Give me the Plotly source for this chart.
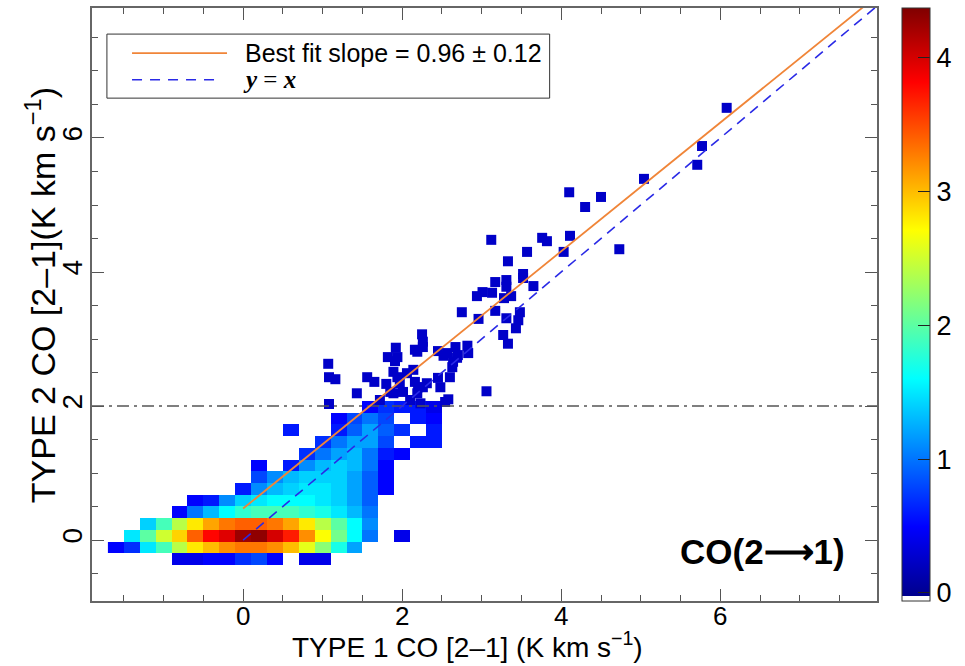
import plotly.graph_objects as go

# ---------------- data ----------------
# 2D density (binned) of TYPE1 vs TYPE2 CO(2-1); bin centres
x_bins = [-1.6, -1.4, -1.2, -1.0, -0.8, -0.6, -0.4, -0.2, 0.0, 0.2, 0.4,
          0.6, 0.8, 1.0, 1.2, 1.4, 1.6, 1.8, 2.0, 2.2, 2.4, 2.6]
y_bins = [-0.2875, -0.1125, 0.0625, 0.2375, 0.4125, 0.5875, 0.7625,
          0.9375, 1.1125, 1.2875, 1.4625, 1.6375, 1.8125, 1.9875]
N = None
density = [
    [N, N, N, N, 0.4, 0.4, 0.5, 0.5, 0.7, 0.8, 0.5, N, 0.4, 0.4, N, N, N, N, N, N, N, N],
    [0.5, 0.7, 1.5, 1.9, 2.4, 2.8, 3.0, 3.2, 3.3, 3.3, 3.2, 3.0, 2.6, 2.2, 1.7, 1.2, N, N, N, N, N, N],
    [N, 1.5, 2.0, 2.5, 2.9, 3.4, 3.8, 3.95, 4.25, 4.3, 4.0, 3.7, 3.2, 2.7, 2.1, 1.6, 1.0, N, 0.4, N, N, N],
    [N, N, 1.4, 1.9, 2.4, 2.8, 3.1, 3.3, 3.4, 3.4, 3.3, 3.1, 2.8, 2.4, 2.0, 1.6, 1.1, N, N, N, N, N],
    [N, N, N, N, 0.5, 1.0, 1.3, 1.6, 1.8, 1.9, 1.9, 1.9, 1.8, 1.7, 1.5, 1.3, 1.0, N, N, N, N, N],
    [N, N, N, N, N, 0.5, 0.6, 1.1, 1.4, 1.5, 1.6, 1.6, 1.6, 1.5, 1.4, 1.2, 0.9, N, N, N, N, N],
    [N, N, N, N, N, N, N, N, 0.6, 1.1, 1.3, 1.4, 1.5, 1.5, 1.4, 1.2, 0.9, 0.5, N, N, N, N],
    [N, N, N, N, N, N, N, N, N, 0.8, 1.1, 1.3, 1.4, 1.4, 1.4, 1.2, 0.9, 0.5, N, N, N, N],
    [N, N, N, N, N, N, N, N, N, 0.5, N, 0.6, 1.1, 1.3, 1.4, 1.3, 1.0, 0.5, N, N, N, N],
    [N, N, N, N, N, N, N, N, N, N, N, N, 0.7, 1.0, 1.2, 1.3, 1.0, 0.6, 0.5, N, N, N],
    [N, N, N, N, N, N, N, N, N, N, N, N, N, 0.7, 1.0, 1.2, 1.2, 0.8, N, 0.6, 0.6, N],
    [N, N, N, N, N, N, N, N, N, N, N, 0.6, N, N, 0.6, 0.9, 1.2, 0.9, 0.7, N, 0.6, N],
    [N, N, N, N, N, N, N, N, N, N, N, N, N, N, 0.5, 0.8, 1.0, 0.8, N, 0.6, 0.5, N],
    [N, N, N, N, N, N, N, N, N, N, N, N, N, N, N, N, 0.5, 0.7, 0.6, 0.6, 0.4, N],
]

# individual points above the 2 K km/s threshold
pts_x = [6.08, 5.77, 5.71, 5.04, 4.10, 4.50, 4.30, 4.11, 4.73, 4.03,
         3.76, 3.82, 3.12, 3.57, 3.33, 3.52, 3.52, 3.17, 3.31, 3.31,
         3.65, 2.94, 3.01, 3.13, 3.28, 3.37, 2.75, 3.17, 3.48, 3.31,
         2.96, 3.46, 3.43, 3.27, 3.33, 2.25, 2.26, 2.26, 2.16, 2.45,
         2.67, 2.82, 2.83, 2.70, 2.52, 1.92, 1.82, 1.94, 1.07, 1.08,
         1.16, 1.56, 1.65, 1.80, 1.89, 1.94, 1.97, 2.14, 2.16, 2.26,
         2.31, 2.45, 2.60, 2.63, 2.69, 2.48, 1.43, 3.06, 2.58, 1.08,
         1.72, 1.89, 2.01, 2.10, 2.23, 2.20, 1.91, 2.19, 2.57, 2.64,
         2.06, 2.19, 2.54, 1.85]
pts_y = [6.45, 5.88, 5.60, 5.39, 5.19, 5.12, 4.97, 4.54, 4.34, 4.30,
         4.51, 4.46, 4.48, 4.30, 4.16, 3.97, 3.91, 3.85, 3.88, 3.78,
         3.79, 3.64, 3.70, 3.69, 3.61, 3.64, 3.40, 3.42, 3.40, 3.31,
         3.30, 3.28, 3.16, 3.06, 2.93, 3.07, 2.96, 2.88, 2.84, 2.82,
         2.88, 2.90, 2.79, 2.76, 2.75, 2.87, 2.73, 2.73, 2.63, 2.43,
         2.40, 2.43, 2.36, 2.33, 2.51, 2.43, 2.34, 2.54, 2.36, 2.28,
         2.34, 2.42, 2.43, 2.58, 2.72, 2.28, 2.19, 2.22, 2.10, 2.03,
         2.09, 2.19, 2.21, 2.09, 2.04, 2.28, 2.67, 2.81, 2.79, 2.66,
         2.49, 2.19, 2.06, 2.21]

fit_slope = 0.96
fit_err = 0.12
fit_intercept = 0.47
threshold = 2.0
line_x = [0.0, 7.97]

# colour scale (IDL/jet-like, white at the very bottom)
jet = [[0.0, "white"], [0.008, "white"], [0.008, "rgb(0,0,140)"],
       [0.125, "rgb(0,0,255)"], [0.375, "rgb(0,255,255)"],
       [0.625, "rgb(255,255,0)"], [0.875, "rgb(255,0,0)"],
       [1.0, "rgb(128,0,0)"]]

FONT = "Liberation Sans, Arial, Helvetica, sans-serif"

fig = go.Figure()

fig.add_trace(go.Heatmap(
    x=x_bins, y=y_bins, z=density, zmin=-0.06, zmax=4.37,
    colorscale=jet, zsmooth=False, hoverongaps=False,
    colorbar=dict(
        x=1.0318, xanchor="left", xref="paper",
        y=0.5, yanchor="middle", len=1.0, lenmode="fraction",
        thickness=28, thicknessmode="pixels",
        outlinewidth=1, outlinecolor="#333",
        tickvals=[0, 1, 2, 3, 4], ticks="inside", ticklen=12,
        tickcolor="#222", tickwidth=1,
        tickfont=dict(family=FONT, size=27, color="black"),
        ypad=0, xpad=0,
    ),
    showlegend=False,
))

fig.add_trace(go.Scatter(
    x=pts_x, y=pts_y, mode="markers",
    marker=dict(symbol="square", size=10, color="#0000C8", line=dict(width=0)),
    showlegend=False,
))

# threshold line
fig.add_trace(go.Scatter(
    x=[-1.9, 7.97], y=[threshold, threshold], mode="lines",
    line=dict(color="#555555", width=1.3, dash="12px,5px,3px,5px"),
    showlegend=False,
))

# y = x
fig.add_trace(go.Scatter(
    x=line_x, y=line_x, mode="lines",
    line=dict(color="#2a2ae6", width=1.6, dash="10px,7px"),
    showlegend=False,
))

# best fit
fig.add_trace(go.Scatter(
    x=line_x, y=[fit_intercept + fit_slope * v for v in line_x], mode="lines",
    line=dict(color="#F08538", width=1.8),
    showlegend=False,
))

axis_common = dict(
    showgrid=False, zeroline=False, showline=True, linecolor="#666",
    linewidth=1.5, mirror="ticks", ticks="inside", ticklen=12,
    tickwidth=1, tickcolor="#555", tickmode="linear", tick0=0, dtick=2,
    minor=dict(dtick=0.5, tick0=0, ticks="inside", ticklen=6,
               tickcolor="#555", tickwidth=1),
    tickfont=dict(family=FONT, size=28, color="black"),
)

fig.update_layout(
    width=965, height=666,
    margin=dict(l=92, r=88, t=8, b=65, autoexpand=False),
    paper_bgcolor="white", plot_bgcolor="white",
    xaxis=dict(axis_common, range=[-1.9, 7.97], ticklabelstandoff=-9,
               tickfont=dict(family=FONT, size=26, color="black")),
    yaxis=dict(axis_common, range=[-0.91, 7.94], tickangle=-90,
               ticklabelstandoff=-3),
    showlegend=False,
)

# axis titles
fig.add_annotation(xref="paper", yref="paper", x=0.478, y=-0.1085,
                   xanchor="center", yanchor="bottom", showarrow=False,
                   text="TYPE 1 CO [2\u20131] (K km s<sup>\u22121</sup>)",
                   font=dict(family=FONT, size=28, color="black"))
fig.add_annotation(xref="paper", yref="paper", x=-0.066, y=0.516,
                   xanchor="center", yanchor="middle", showarrow=False,
                   textangle=-90,
                   text="TYPE 2 CO [2\u20131](K km s<sup>\u22121</sup>)",
                   font=dict(family=FONT, size=34, color="black"))

# manual legend box
fig.add_shape(type="rect", xref="paper", yref="paper",
              x0=0.019, x1=0.583, y0=0.848, y1=0.956,
              line=dict(color="#333", width=1), fillcolor="white", layer="above")
fig.add_shape(type="line", xref="paper", yref="paper",
              x0=0.051, x1=0.172, y0=0.924, y1=0.924,
              line=dict(color="#F08538", width=1.8), layer="above")
fig.add_shape(type="line", xref="paper", yref="paper",
              x0=0.051, x1=0.16, y0=0.879, y1=0.879,
              line=dict(color="#2a2ae6", width=1.6, dash="10px,8px"), layer="above")
fig.add_annotation(xref="paper", yref="paper", x=0.192, y=0.924,
                   xanchor="left", yanchor="middle", showarrow=False,
                   text=f"Best fit slope = {fit_slope:.2f} \u00b1 {fit_err:.2f}",
                   font=dict(family=FONT, size=25, color="black"))
fig.add_annotation(xref="paper", yref="paper", x=0.190, y=0.879,
                   xanchor="left", yanchor="middle", showarrow=False,
                   text="<b><i>y</i></b> = <b><i>x</i></b>",
                   font=dict(family="Liberation Serif, DejaVu Serif, serif",
                             size=25, color="black"))

fig.add_annotation(xref="paper", yref="paper", x=0.962, y=0.083,
                   xanchor="right", yanchor="middle", showarrow=False,
                   text="<b>CO(2\u27f61)</b>",
                   font=dict(family=FONT, size=35, color="black"))

fig.write_html("out.html")
